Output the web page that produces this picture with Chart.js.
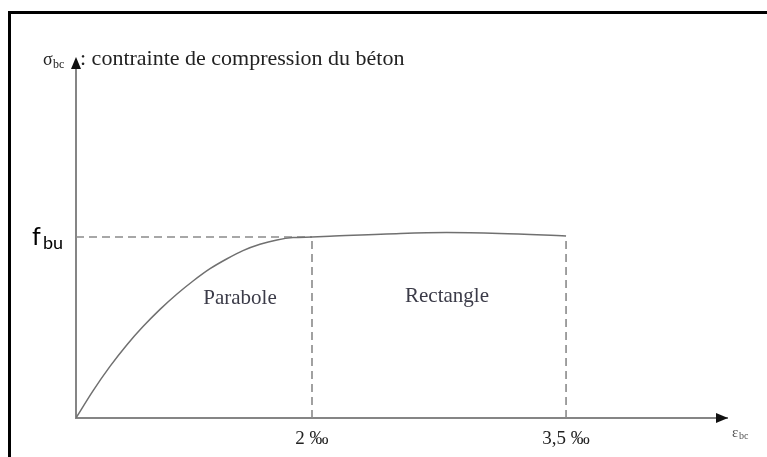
<!DOCTYPE html>
<html>
<head>
<meta charset="utf-8">
<script src="https://cdn.jsdelivr.net/npm/chart.js@4.4.1/dist/chart.umd.min.js"></script>
<style>
    body { margin: 0; background: #fff; width: 767px; height: 457px; overflow: hidden; position: relative; }
    #frame { position: absolute; left: 8px; top: 11px; width: 800px; height: 500px; border-left: 3px solid #000; border-top: 3px solid #000; }
    #chart { position: absolute; left: 0; top: 0; }
</style>
</head>
<body>
<div id="frame"></div>
<canvas id="chart" width="767" height="457"></canvas>
<script>

// schematic x units (the drawing is not to scale), y in units of fbu
const curveX = [0, 0.144, 0.288, 0.432, 0.568, 0.712, 0.856, 0.992, 1.136, 1.28, 1.415, 1.559, 1.703, 1.839, 2.0, 2.15, 2.75, 3.14, 3.59, 4.153]
const curveY = [0, 0.150, 0.285, 0.405, 0.505, 0.600, 0.685, 0.757, 0.825, 0.880, 0.925, 0.960, 0.984, 0.997, 1.0, 1.004, 1.020, 1.025, 1.020, 1.006]

const tickPos = [2, 4.153]
const tickText = ['2 \u2030', '3,5 \u2030']
const fbu = 1
const xMax = 5.517
const yMax = 1.978

const regionNames = ['Parabole', 'Rectangle']
const regionX = [1.39, 3.144]
const regionY = [0.663, 0.669]

const dashStyle = {
    borderColor: '#8a8a8a',
    borderWidth: 1.6,
    borderDash: [8, 5],
    pointRadius: 0,
    fill: false
}

const decorations = {
    id: 'decorations',
    afterDraw(chart) {
        const { ctx, chartArea: a, scales: { x, y } } = chart;
        ctx.save();

        // arrow heads
        ctx.fillStyle = '#111';
        ctx.beginPath();
        ctx.moveTo(a.left, a.top - 3);
        ctx.lineTo(a.left - 5, a.top + 9);
        ctx.lineTo(a.left + 5, a.top + 9);
        ctx.closePath();
        ctx.fill();

        ctx.beginPath();
        ctx.moveTo(a.right + 1, a.bottom);
        ctx.lineTo(a.right - 11, a.bottom - 5);
        ctx.lineTo(a.right - 11, a.bottom + 5);
        ctx.closePath();
        ctx.fill();

        // axis title on top
        ctx.fillStyle = '#222';
        ctx.textBaseline = 'alphabetic';
        ctx.textAlign = 'left';
        const base = a.top + 5;
        ctx.font = '18px "Liberation Serif"';
        ctx.fillText('\u03c3', a.left - 33, base);
        ctx.font = '12px "Liberation Serif"';
        ctx.fillText('bc', a.left - 23, base + 3);
        ctx.font = '22px "Liberation Serif"';
        ctx.fillText(': contrainte de compression du b\u00e9ton', a.left + 4, base);

        // fbu
        ctx.fillStyle = '#000';
        const yf = y.getPixelForValue(fbu);
        ctx.font = '25px Lato';
        ctx.fillText('f', a.left - 44, yf + 8);
        ctx.font = '18px Lato';
        ctx.fillText('bu', a.left - 33, yf + 12);

        // epsilon bc
        ctx.fillStyle = '#555';
        ctx.font = '15px "Liberation Serif"';
        ctx.fillText('\u03b5', a.right + 5, a.bottom + 19);
        ctx.font = '10px "Liberation Serif"';
        ctx.fillText('bc', a.right + 12, a.bottom + 21);

        // region names
        ctx.fillStyle = '#3b3b48';
        ctx.font = '21px "Liberation Serif"';
        ctx.textAlign = 'center';
        ctx.textBaseline = 'middle';
        regionNames.forEach((name, i) => {
            ctx.fillText(name, x.getPixelForValue(regionX[i]), y.getPixelForValue(regionY[i]));
        });

        ctx.restore();
    }
}

document.addEventListener("DOMContentLoaded", function () {

    const canvas = document.getElementById("chart");
    const last = curveX.length - 1;

    new Chart(canvas, {
        type: 'line',
        data: {
            datasets: [
                {
                    data: curveX.map((v, i) => ({ x: v, y: curveY[i] })),
                    borderColor: '#707070',
                    borderWidth: 1.5,
                    pointRadius: 0,
                    cubicInterpolationMode: 'monotone',
                    fill: false
                },
                { ...dashStyle, data: [{ x: 0, y: fbu }, { x: tickPos[0], y: fbu }] },
                { ...dashStyle, data: [{ x: tickPos[0], y: 0 }, { x: tickPos[0], y: fbu }] },
                { ...dashStyle, data: [{ x: tickPos[1], y: 0 }, { x: tickPos[1], y: curveY[last] }] }
            ]
        },
        options: {
            responsive: false,
            animation: false,
            layout: { padding: { top: 60, right: 40, left: 0, bottom: 0 } },
            plugins: {
                legend: { display: false },
                tooltip: { enabled: false }
            },
            scales: {
                x: {
                    type: 'linear',
                    min: 0,
                    max: xMax,
                    grid: { display: false, drawTicks: false },
                    border: { display: true, color: '#858585', width: 2 },
                    afterBuildTicks: (scale) => { scale.ticks = tickPos.map(v => ({ value: v })) },
                    afterFit: (scale) => { scale.height = 39 },
                    ticks: {
                        autoSkip: false,
                        maxRotation: 0,
                        padding: 10,
                        color: '#222',
                        font: { family: 'Liberation Serif', size: 19 },
                        callback: (val, i) => tickText[i]
                    }
                },
                y: {
                    type: 'linear',
                    min: 0,
                    max: yMax,
                    grid: { display: false, drawTicks: false },
                    border: { display: true, color: '#858585', width: 2 },
                    ticks: { display: false },
                    afterFit: (scale) => { scale.width = 76 }
                }
            }
        },
        plugins: [decorations]
    });

});
</script>
</body>
</html>
